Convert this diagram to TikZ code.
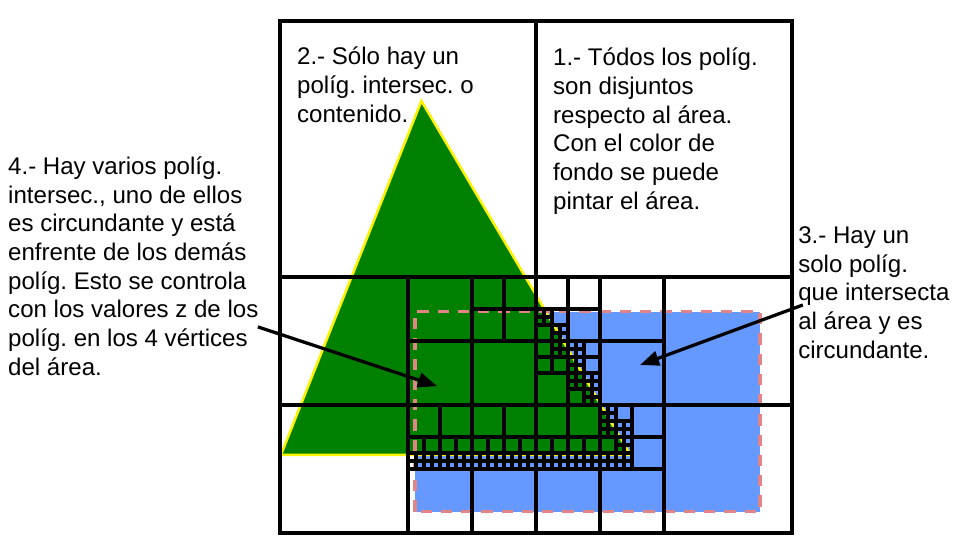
\documentclass[tikz,border=0pt]{standalone}
\usepackage{fontspec}
\setmainfont{Liberation Sans}
\usetikzlibrary{arrows.meta}
\definecolor{polygreen}{RGB}{0,128,0}
\definecolor{polyblue}{RGB}{102,153,255}
\definecolor{edgepink}{RGB}{226,132,136}
\frenchspacing
\begin{document}
\begin{tikzpicture}[
    gridline/.style={line width=2.9pt, black},
    pointer/.style={line width=2.9pt, -{Triangle[length=17pt,width=13pt]}},
    note/.style={anchor=base west, align=left, inner sep=0pt,
      font=\fontsize{21.4}{25.5}\selectfont}
  ]
  \useasboundingbox (-8.75,-0.625) rectangle (21.22,16.656);

  % polygons
  \fill[polyblue] (4.22,0.67) rectangle (15,6.92);
  \filldraw[fill=polygreen, draw=yellow, line width=2.2pt]
    (0.03,2.44) -- (4.42,13.5) -- (10.95,2.44) -- cycle;
  \draw[edgepink, line width=3.2pt, dash pattern=on 10pt off 8pt]
    (4.22,0.67) rectangle (15,6.92);

  % subdivision of the area
  \draw[gridline] (0,0) rectangle (16,16);
  \foreach \x/\y/\s in {0/0/16, 0/0/8, 8/0/8,
      4/4/4, 4/0/4, 8/4/4, 8/0/4,
      6/6/2, 8/6/2, 8/4/2, 4/2/2, 6/2/2, 8/2/2, 10/2/2,
      8/6/1, 8/5/1, 9/5/1, 9/4/1, 10/3/1,
      4/2/1, 5/2/1, 6/2/1, 7/2/1, 8/2/1, 9/2/1, 10/2/1}
    \draw[gridline] (\x+\s/2,\y) -- ++(0,\s) (\x,\y+\s/2) -- ++(\s,0);
  % smallest cells
  \foreach \x/\y in {8/6.5, 8.5/6, 8.5/5.5, 9/5.5, 9/5, 9/4.5, 9.5/4.5,
      9.5/4, 10/3.5, 10/3, 10.5/3, 10.5/2.5}
    \draw[gridline] (\x+0.25,\y) -- ++(0,0.5) (\x,\y+0.25) -- ++(0.5,0);
  \foreach \x in {4,4.5,...,10.5}
    \draw[gridline] (\x+0.25,2) -- ++(0,0.5) (\x,2.25) -- ++(0.5,0);

  % texts (base = last line)
  \node[note] (disjuntos) at (8.53,10.12)
    {1.- Tódos los políg.\\son disjuntos\\respecto al área.\\Con el color de\\fondo se puede\\pintar el área.};
  \node[note] (unpolig) at (0.53,12.843)
    {2.- Sólo hay un\\políg. intersec. o\\contenido.};
  \node[note] (circund) at (16.19,5.467)
    {3.- Hay un\\solo políg.\\que intersecta\\al área y es\\circundante.};
  \node[note] (varios) at (-8.5,4.934)
    {4.- Hay varios políg.\\intersec., uno de ellos\\es circundante y está\\enfrente de los demás\\políg. Esto se controla\\con los valores z de los\\políg. en los 4 vértices\\del área.};

  \coordinate (from3) at (16.34,7.125);
  \coordinate (to3) at (11.25,5.25);
  \coordinate (from4) at (-0.69,6.44);
  \coordinate (to4) at (4.91,4.59);
  \draw[pointer] (from3) -- (to3);
  \draw[pointer] (from4) -- (to4);
\end{tikzpicture}
\end{document}
